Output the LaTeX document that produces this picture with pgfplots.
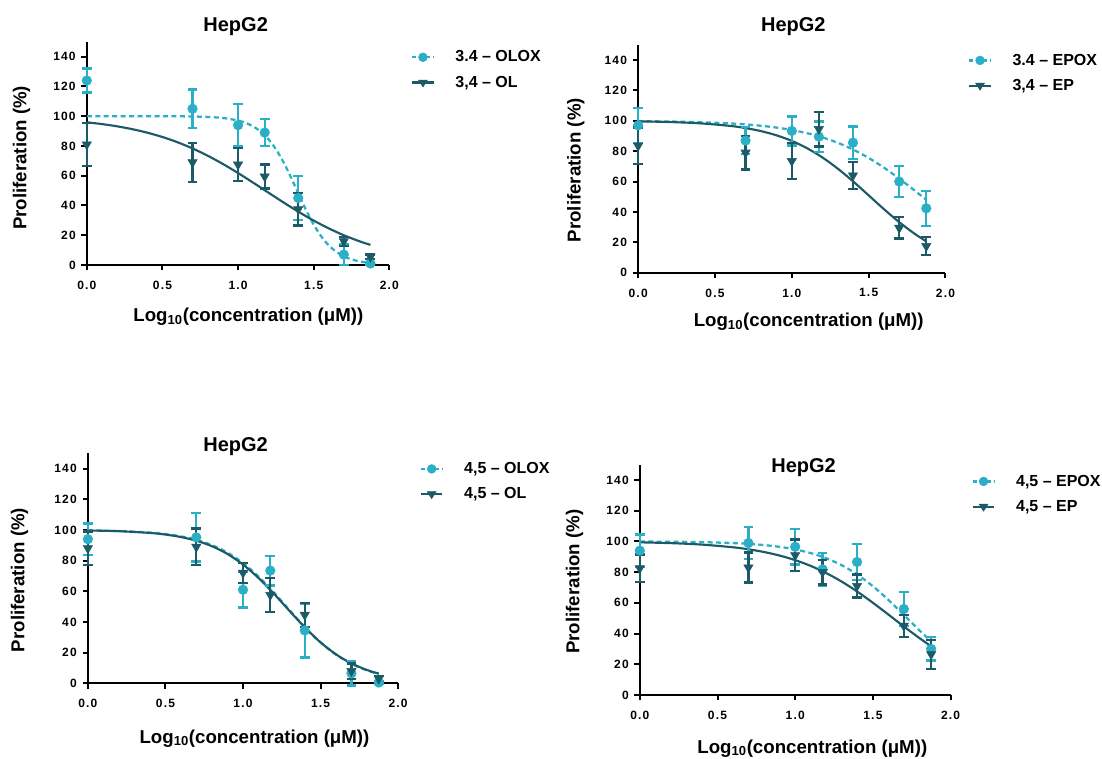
\documentclass[border=0pt]{standalone}
\usepackage{pgfplots}
\pgfplotsset{compat=1.18}
\usepackage{fontspec}
\setmainfont{Liberation Sans}
\newfontfamily\tickfont[LetterSpace=10]{Liberation Sans}
\definecolor{cyanc}{HTML}{2AAFC6}
\definecolor{darkc}{HTML}{1B5A66}

\pgfplotsset{
  hep/.style={
    scale only axis, anchor=south west,
    xmin=0, xmax=2, ymin=0, ymax=150,
    axis lines=left, axis line style={-, line width=1.5pt},
    xtick={0,0.5,1,1.5,2}, ytick={0,20,40,60,80,100,120,140},
    xticklabels={0.0,0.5,1.0,1.5,2.0},
    tick align=outside, major tick length=4pt,
    tick style={line width=1.5pt, black},
    ticklabel style={font=\tickfont\bfseries\fontsize{9}{11}\selectfont},
    xticklabel style={yshift=-4.5pt},
    yticklabel style={xshift=-0.8pt},
    /pgf/number format/assume math mode=true,
    clip=false,
    title={HepG2},
    xlabel={Log\textsubscript{10}(concentration (μM))},
    ylabel={Proliferation (\%)},
    legend cell align=left,
    legend style={draw=none, fill=none, inner sep=0pt, anchor=west,
      font=\bfseries\fontsize{12}{14}\selectfont,
      nodes={text height=8.6pt, text depth=1.6pt, inner sep=2pt},
      row sep=4.8pt, column sep=13.5pt},
  },
  tpos/.style 2 args={title style={at={(axis description cs:#1,#2)}, anchor=center, yshift=-8pt, font=\bfseries\fontsize{15}{18}\selectfont}},
  xlpos/.style 2 args={xlabel style={at={(axis description cs:#1,#2)}, anchor=center, font=\bfseries\fontsize{14}{17}\selectfont}},
  ylpos/.style 2 args={ylabel style={at={(axis description cs:#1,#2)}, anchor=center, font=\bfseries\fontsize{14}{17}\selectfont}},
  lgpos/.style 2 args={legend style={at={(axis description cs:#1,#2)}}},
  fitc/.style={cyanc, line width=1.7pt, dash pattern=on 3.75pt off 2.6pt, smooth, forget plot},
  fitd/.style={darkc, line width=1.6pt, smooth, forget plot},
  ebars/.style={error bars/.cd, y dir=both, y explicit,
    error bar style={line width=1.7pt},
    error mark options={rotate=90, mark size=3.7pt, line width=1.7pt}},
  ptsc/.style={only marks, mark=*, mark size=3.6pt, color=cyanc, ebars,
    /pgfplots/legend image code/.code={\draw[cyanc, line width=1.7pt, dash pattern=on 3pt off 2.2pt] (0pt,0pt) -- (16pt,0pt); \fill[cyanc] (8pt,0pt) circle (3.3pt);}},
  ptsd/.style={only marks, mark=triangle*, mark size=4pt, mark options={rotate=180}, color=darkc, ebars,
    /pgfplots/legend image code/.code={\draw[darkc, line width=1.8pt] (0pt,0pt) -- (16pt,0pt); \fill[darkc] (8pt,-3.3pt) -- (11.3pt,1.9pt) -- (4.7pt,1.9pt) -- cycle;}},
}

\begin{document}
\begin{tikzpicture}
\useasboundingbox (0,0) rectangle (826.5pt,568.5pt);

% ---------------- Panel 1 ----------------
\begin{axis}[hep, at={(65.1pt,369.75pt)}, width=226.9pt, height=167.4pt,
  tpos={0.492}{1.08}, xlpos={0.534}{-0.232}, ylpos={-0.216}{0.48}, lgpos={1.071}{0.874}]
\addplot[fitc] coordinates {(0,100) (0.2,100) (0.4,99.99) (0.6,99.92) (0.7,99.8) (0.8,99.5) (0.9,98.79) (1.0,97.08) (1.05,95.49) (1.1,93.11) (1.15,89.61) (1.2,84.63) (1.25,77.86) (1.3,69.17) (1.35,58.89) (1.4,47.76) (1.45,36.85) (1.5,27.14) (1.55,19.2) (1.6,13.17) (1.65,8.83) (1.7,5.82) (1.75,3.79) (1.8,2.46) (1.875,1.27)};
\addplot[fitd] coordinates {(0,95.9) (0.1,94.71) (0.2,93.2) (0.3,91.3) (0.4,88.93) (0.5,86.01) (0.6,82.49) (0.7,78.29) (0.8,73.41) (0.9,67.88) (1.0,61.8) (1.1,55.33) (1.2,48.68) (1.3,42.07) (1.4,35.73) (1.5,29.85) (1.6,24.58) (1.7,19.96) (1.8,16.04) (1.875,13.52)};
\addplot[ptsc] table[x=x, y=y, y error=e, row sep=\\] {x y e\\ 0 124 8\\ 0.699 105 13\\ 1.0 94 14\\ 1.176 89 9\\ 1.398 45 15\\ 1.699 7 7\\ 1.875 1 1\\};
\addlegendentry{3.4 – OLOX}
\addplot[ptsd] table[x=x, y=y, y error=e, row sep=\\] {x y e\\ 0 81 14.5\\ 0.699 69 13\\ 1.0 67.5 11\\ 1.176 59.5 8\\ 1.398 37.5 11\\ 1.699 16 3\\ 1.875 5.5 1.5\\};
\addlegendentry{3,4 – OL}
\end{axis}

% ---------------- Panel 2 ----------------
\begin{axis}[hep, at={(478.6pt,363.98pt)}, width=230.5pt, height=170.9pt,
  tpos={0.505}{1.091}, xlpos={0.555}{-0.215}, ylpos={-0.203}{0.45}, lgpos={1.073}{0.876}]
\addplot[fitc] coordinates {(0,99.74) (0.2,99.51) (0.4,99.08) (0.6,98.25) (0.7,97.6) (0.8,96.72) (0.9,95.53) (1.0,93.93) (1.1,91.82) (1.2,89.05) (1.3,85.48) (1.4,81.01) (1.5,75.55) (1.6,69.12) (1.7,61.86) (1.8,54.02) (1.875,47.99)};
\addplot[fitd] coordinates {(0,99.62) (0.2,99.2) (0.4,98.35) (0.6,96.62) (0.7,95.18) (0.8,93.19) (0.9,90.44) (1.0,86.75) (1.1,81.91) (1.2,75.8) (1.3,68.43) (1.4,60.0) (1.5,50.92) (1.6,41.79) (1.7,33.18) (1.8,25.57) (1.875,20.67)};
\addplot[ptsc] table[x=x, y=y, y error=e, row sep=\\] {x y e\\ 0 97 11.6\\ 0.699 87 9\\ 1.0 93.3 9.5\\ 1.176 89.5 10\\ 1.398 85.6 10.6\\ 1.699 60 10.3\\ 1.875 42.4 11.5\\};
\addlegendentry{3.4 – EPOX}
\addplot[ptsd] table[x=x, y=y, y error=e, row sep=\\] {x y e\\ 0 83.5 12\\ 0.699 79 11\\ 1.0 73.5 12\\ 1.176 94.5 11.5\\ 1.398 64 8.8\\ 1.699 29.5 7\\ 1.875 17.5 5.8\\};
\addlegendentry{3,4 – EP}
\end{axis}

% ---------------- Panel 3 ----------------
\begin{axis}[hep, at={(65.9pt,56.03pt)}, width=232.7pt, height=172.5pt,
  tpos={0.476}{1.04}, xlpos={0.537}{-0.239}, ylpos={-0.22}{0.449}, lgpos={1.069}{0.877}]
\addplot[fitc] coordinates {(0,99.73) (0.2,99.31) (0.4,98.29) (0.5,97.32) (0.6,95.82) (0.7,93.53) (0.8,90.12) (0.9,85.19) (1.0,78.41) (1.1,69.61) (1.2,59.11) (1.3,47.7) (1.4,36.52) (1.5,26.64) (1.6,18.64) (1.7,12.63) (1.8,8.36) (1.875,6.06)};
\addplot[fitd] coordinates {(0,99.67) (0.2,99.2) (0.4,98.07) (0.5,97.01) (0.6,95.39) (0.7,92.96) (0.8,89.4) (0.9,84.33) (1.0,77.45) (1.1,68.68) (1.2,58.33) (1.3,47.19) (1.4,36.31) (1.5,26.68) (1.6,18.85) (1.7,12.91) (1.8,8.64) (1.875,6.33)};
\addplot[ptsc] table[x=x, y=y, y error=e, row sep=\\] {x y e\\ 0 94 10.3\\ 0.699 95.2 15.8\\ 1.0 61 11.6\\ 1.176 73.5 9.7\\ 1.398 34.5 17.6\\ 1.699 6.5 8\\ 1.875 0.5 1\\};
\addlegendentry{4,5 – OLOX}
\addplot[ptsd] table[x=x, y=y, y error=e, row sep=\\] {x y e\\ 0 88 11\\ 0.699 89 12\\ 1.0 72 6.5\\ 1.176 57.6 11.3\\ 1.398 44.6 8\\ 1.699 8 5\\ 1.875 3 2\\};
\addlegendentry{4,5 – OL}
\end{axis}

% ---------------- Panel 4 ----------------
\begin{axis}[hep, at={(479.85pt,47.25pt)}, width=233.1pt, height=172.8pt,
  tpos={0.527}{0.998}, xlpos={0.555}{-0.231}, ylpos={-0.21}{0.492}, lgpos={1.067}{0.872}]
\addplot[fitc] coordinates {(0,99.9) (0.2,99.78) (0.4,99.51) (0.6,98.92) (0.7,98.39) (0.8,97.6) (0.9,96.46) (1.0,94.79) (1.1,92.4) (1.2,89.05) (1.3,84.45) (1.4,78.41) (1.5,70.82) (1.6,61.86) (1.7,52.01) (1.8,42.02) (1.875,34.89)};
\addplot[fitd] coordinates {(0,99.4) (0.2,98.88) (0.4,97.92) (0.6,96.18) (0.7,94.85) (0.8,93.08) (0.9,90.78) (1.0,87.8) (1.1,84.03) (1.2,79.37) (1.3,73.77) (1.4,67.28) (1.5,60.05) (1.6,52.36) (1.7,44.55) (1.8,37.01) (1.875,31.71)};
\addplot[ptsc] table[x=x, y=y, y error=e, row sep=\\] {x y e\\ 0 94 10.5\\ 0.699 99 10.6\\ 1.0 96.5 11.5\\ 1.176 81.8 10.8\\ 1.398 86.6 11.5\\ 1.699 56 11\\ 1.875 30 7.6\\};
\addlegendentry{4,5 – EPOX}
\addplot[ptsd] table[x=x, y=y, y error=e, row sep=\\] {x y e\\ 0 82.5 9\\ 0.699 83 9.7\\ 1.0 91 10.3\\ 1.176 80 8\\ 1.398 71 7.5\\ 1.699 45 7.2\\ 1.875 26.5 9.5\\};
\addlegendentry{4,5 – EP}
\end{axis}
\end{tikzpicture}
\end{document}
